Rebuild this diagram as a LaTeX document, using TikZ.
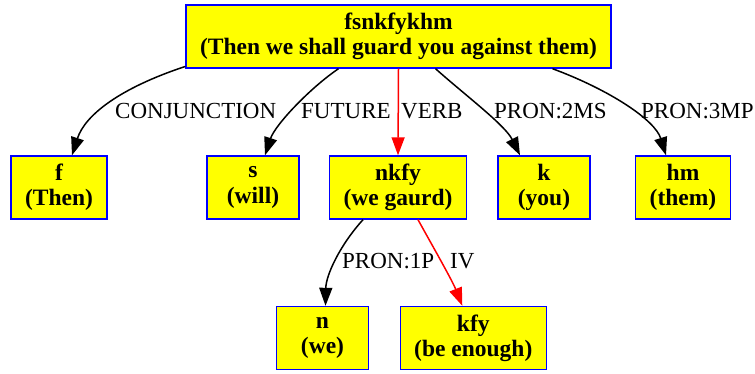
\documentclass[tikz,border=0pt]{standalone}
\usepackage{fontspec}
\setmainfont{Liberation Serif}
\usetikzlibrary{arrows.meta}
\definecolor{boxfill}{RGB}{255,255,0}
\definecolor{boxline}{RGB}{0,0,255}
\definecolor{mainrel}{RGB}{255,0,0}
\begin{document}
\begin{tikzpicture}[x=1pt,y=-1pt,
  word/.style={draw=boxline, fill=boxfill, line width=1.4pt, rectangle,
    align=center, inner xsep=14pt, inner ysep=0pt,
    minimum width=92pt, minimum height=63pt,
    font=\fontsize{23.5}{25.2}\selectfont\bfseries},
  rel/.style={line width=1.5pt, -{Triangle[length=18pt,width=13pt]}},
  lbl/.style={anchor=base west, inner sep=0pt, font=\fontsize{23}{24}\selectfont}]
\useasboundingbox (0,0) rectangle (755,374);

% morpheme nodes
\node[word] (root) at (398.5,36.5) {fsnkfykhm\\(Then we shall guard you against them)};
\node[word] (f)    at (59,187.5)   {f\\(Then)};
\node[word] (s)    at (253,187.5)  {s\\(will)};
\node[word] (nkfy) at (398,187.5)  {nkfy\\(we gaurd)};
\node[word] (k)    at (544,187.5)  {k\\(you)};
\node[word] (hm)   at (683,187.5)  {hm\\(them)};
\node[word] (n)    at (322.5,338)  {n\\(we)};
\node[word] (kfy)  at (473.3,338)  {kfy\\(be enough)};

% relations from the whole word
\draw[rel] (root.188) .. controls (120,88) and (85,115) .. ([xshift=13pt]f.north);
\draw[rel] ([xshift=-60pt]root.south) .. controls (310,88) and (275,125) .. ([xshift=12pt]s.north);
\draw[rel, mainrel] (root.south) -- (nkfy.north);
\draw[rel] ([xshift=37pt]root.south) .. controls (465,95) and (505,125) .. ([xshift=-24pt]k.north);
\draw[rel] ([xshift=154pt]root.south) .. controls (610,90) and (655,120) .. ([xshift=-17pt]hm.north);

% relations from the verb
\draw[rel] ([xshift=-35pt]nkfy.south) .. controls (340,245) and (326,275) .. ([xshift=3pt]n.north);
\draw[rel, mainrel] ([xshift=20pt]nkfy.south) .. controls (432,245) and (452,280) .. ([xshift=-11pt]kfy.north);

% relation labels
\node[lbl] (lconj) at (115,119) {CONJUNCTION};
\node[lbl] (lfut)  at (301,119) {FUTURE};
\node[lbl] (lverb) at (401,119) {VERB};
\node[lbl] (l2ms)  at (494,119) {PRON:2MS};
\node[lbl] (l3mp)  at (641,119) {PRON:3MP};
\node[lbl] (l1p)   at (342,269) {PRON:1P};
\node[lbl] (liv)   at (450,269) {IV};
\end{tikzpicture}
\end{document}
